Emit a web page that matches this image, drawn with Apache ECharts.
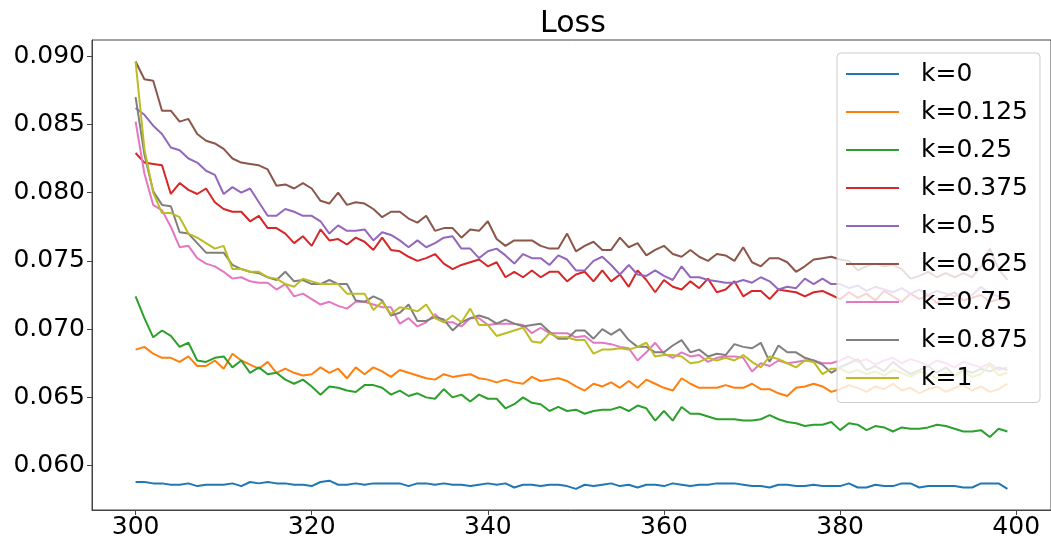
<!DOCTYPE html>
<html>
<head>
<meta charset="utf-8">
<script src="https://cdn.jsdelivr.net/npm/echarts@6/dist/echarts.min.js"></script>
<style>
html,body{margin:0;padding:0;background:#fff;}
#chart{width:1051px;height:540px;}
</style>
</head>
<body>
<div id="chart"></div>
<script>
// ---- data ----
const epochs = Array.from({length: 100}, (_, i) => 300 + i);
const seriesNames = ['k=0','k=0.125','k=0.25','k=0.375','k=0.5','k=0.625','k=0.75','k=0.875','k=1'];
const xTicks = [300, 320, 340, 360, 380, 400];
const yTicks = [0.060, 0.065, 0.070, 0.075, 0.080, 0.085, 0.090];

const k0 = [0.0588,0.0588,0.0587,0.0587,0.0586,0.0586,0.0587,0.0585,0.0586,0.0586,
0.0586,0.0587,0.0585,0.0588,0.0587,0.0588,0.0587,0.0587,0.0586,0.0586,
0.0585,0.0588,0.0589,0.0586,0.0586,0.0587,0.0586,0.0587,0.0587,0.0587,
0.0587,0.0585,0.0587,0.0587,0.0586,0.0587,0.0586,0.0586,0.0585,0.0586,
0.0587,0.0586,0.0587,0.0584,0.0586,0.0586,0.0585,0.0586,0.0586,0.0585,
0.0583,0.0586,0.0585,0.0586,0.0587,0.0585,0.0586,0.0584,0.0586,0.0586,
0.0585,0.0587,0.0586,0.0585,0.0586,0.0586,0.0587,0.0587,0.0587,0.0586,
0.0585,0.0585,0.0584,0.0586,0.0586,0.0585,0.0585,0.0586,0.0585,0.0585,
0.0585,0.0587,0.0584,0.0584,0.0586,0.0585,0.0585,0.0587,0.0587,0.0584,
0.0585,0.0585,0.0585,0.0585,0.0584,0.0584,0.0587,0.0587,0.0587,0.0583];

const k0125 = [0.0685,0.0687,0.0682,0.0679,0.0679,0.0676,0.0680,0.0673,0.0673,0.0677,
0.0671,0.0682,0.0677,0.0674,0.0671,0.0676,0.0668,0.0671,0.0668,0.0666,
0.0667,0.0672,0.0668,0.0671,0.0664,0.0672,0.0667,0.0672,0.0669,0.0665,
0.0670,0.0668,0.0666,0.0664,0.0663,0.0667,0.0665,0.0666,0.0667,0.0664,
0.0663,0.0661,0.0663,0.0661,0.0660,0.0665,0.0662,0.0663,0.0664,0.0662,
0.0658,0.0655,0.0660,0.0658,0.0661,0.0657,0.0662,0.0657,0.0663,0.0660,
0.0657,0.0655,0.0664,0.0660,0.0657,0.0657,0.0657,0.0659,0.0657,0.0657,
0.0660,0.0656,0.0656,0.0653,0.0651,0.0657,0.0658,0.0660,0.0658,0.0654,
0.0656,0.0659,0.0657,0.0654,0.0658,0.0656,0.0660,0.0655,0.0657,0.0653,
0.0656,0.0658,0.0654,0.0657,0.0659,0.0655,0.0658,0.0654,0.0656,0.0660];

const k025 = [0.0724,0.0708,0.0694,0.0699,0.0695,0.0687,0.0690,0.0677,0.0676,0.0679,
0.0680,0.0672,0.0677,0.0668,0.0672,0.0667,0.0668,0.0663,0.0660,0.0663,
0.0658,0.0652,0.0658,0.0657,0.0655,0.0654,0.0659,0.0659,0.0657,0.0652,
0.0655,0.0651,0.0653,0.0650,0.0649,0.0656,0.0650,0.0652,0.0647,0.0652,
0.0649,0.0649,0.0642,0.0645,0.0650,0.0646,0.0645,0.0640,0.0643,0.0640,
0.0641,0.0638,0.0640,0.0641,0.0641,0.0643,0.0640,0.0644,0.0642,0.0633,
0.0640,0.0633,0.0643,0.0638,0.0638,0.0636,0.0634,0.0634,0.0634,0.0633,
0.0633,0.0634,0.0637,0.0634,0.0632,0.0631,0.0629,0.0630,0.0630,0.0632,
0.0626,0.0631,0.0630,0.0626,0.0629,0.0628,0.0625,0.0628,0.0627,0.0627,
0.0628,0.0630,0.0629,0.0627,0.0625,0.0625,0.0626,0.0621,0.0627,0.0625];

const k0375 = [0.0829,0.0822,0.0821,0.0820,0.0799,0.0807,0.0802,0.0799,0.0803,0.0793,
0.0788,0.0786,0.0786,0.0779,0.0783,0.0774,0.0774,0.0770,0.0763,0.0768,
0.0761,0.0773,0.0765,0.0766,0.0762,0.0767,0.0764,0.0758,0.0767,0.0758,
0.0757,0.0753,0.0750,0.0752,0.0755,0.0748,0.0744,0.0747,0.0749,0.0751,
0.0746,0.0749,0.0738,0.0742,0.0738,0.0743,0.0738,0.0742,0.0742,0.0735,
0.0740,0.0742,0.0735,0.0743,0.0735,0.0740,0.0731,0.0743,0.0736,0.0727,
0.0736,0.0731,0.0729,0.0735,0.0730,0.0737,0.0727,0.0729,0.0735,0.0724,
0.0728,0.0728,0.0722,0.0729,0.0728,0.0727,0.0724,0.0727,0.0728,0.0725,
0.0722,0.0727,0.0723,0.0726,0.0721,0.0728,0.0724,0.0720,0.0726,0.0722,
0.0725,0.0719,0.0724,0.0727,0.0721,0.0723,0.0725,0.0720,0.0722,0.0721];

const k05 = [0.0862,0.0857,0.0849,0.0843,0.0833,0.0831,0.0825,0.0822,0.0816,0.0813,
0.0799,0.0804,0.0800,0.0803,0.0793,0.0783,0.0783,0.0788,0.0786,0.0783,
0.0783,0.0779,0.0770,0.0776,0.0772,0.0772,0.0773,0.0765,0.0771,0.0769,
0.0765,0.0760,0.0765,0.0760,0.0763,0.0767,0.0768,0.0759,0.0759,0.0752,
0.0757,0.0759,0.0754,0.0748,0.0755,0.0752,0.0752,0.0747,0.0754,0.0751,
0.0743,0.0743,0.0750,0.0753,0.0747,0.0740,0.0747,0.0740,0.0739,0.0743,
0.0739,0.0736,0.0746,0.0738,0.0738,0.0736,0.0735,0.0734,0.0734,0.0736,
0.0734,0.0738,0.0735,0.0729,0.0731,0.0730,0.0737,0.0733,0.0737,0.0733,
0.0733,0.0730,0.0732,0.0728,0.0731,0.0729,0.0727,0.0730,0.0726,0.0729,
0.0725,0.0728,0.0726,0.0724,0.0727,0.0725,0.0731,0.0726,0.0724,0.0726];

const k0625 = [0.0896,0.0883,0.0882,0.0860,0.0860,0.0852,0.0854,0.0843,0.0838,0.0836,
0.0832,0.0825,0.0822,0.0821,0.0820,0.0817,0.0805,0.0806,0.0803,0.0807,
0.0803,0.0794,0.0792,0.0800,0.0791,0.0793,0.0792,0.0788,0.0782,0.0786,
0.0786,0.0781,0.0778,0.0783,0.0772,0.0774,0.0774,0.0767,0.0773,0.0772,
0.0779,0.0766,0.0761,0.0765,0.0765,0.0765,0.0761,0.0759,0.0759,0.0770,
0.0757,0.0761,0.0764,0.0758,0.0758,0.0767,0.0760,0.0763,0.0754,0.0758,
0.0761,0.0755,0.0753,0.0758,0.0753,0.0750,0.0755,0.0754,0.0750,0.0760,
0.0749,0.0746,0.0752,0.0752,0.0749,0.0742,0.0746,0.0751,0.0752,0.0753,
0.0751,0.0750,0.0743,0.0746,0.0748,0.0746,0.0747,0.0744,0.0737,0.0739,
0.0742,0.0738,0.0741,0.0738,0.0741,0.0738,0.0746,0.0759,0.0744,0.0736];

const k075 = [0.0852,0.0814,0.0791,0.0787,0.0775,0.0760,0.0761,0.0752,0.0748,0.0746,
0.0742,0.0737,0.0738,0.0735,0.0734,0.0734,0.0729,0.0733,0.0724,0.0726,
0.0722,0.0718,0.0720,0.0717,0.0715,0.0720,0.0720,0.0718,0.0716,0.0716,
0.0704,0.0708,0.0702,0.0705,0.0711,0.0705,0.0705,0.0702,0.0708,0.0708,
0.0703,0.0704,0.0704,0.0704,0.0703,0.0697,0.0701,0.0697,0.0697,0.0697,
0.0694,0.0695,0.0690,0.0690,0.0689,0.0687,0.0686,0.0677,0.0683,0.0690,
0.0682,0.0679,0.0683,0.0680,0.0681,0.0676,0.0679,0.0680,0.0680,0.0679,
0.0669,0.0675,0.0673,0.0677,0.0675,0.0676,0.0677,0.0677,0.0675,0.0675,
0.0677,0.0680,0.0676,0.0678,0.0674,0.0677,0.0679,0.0675,0.0678,0.0676,
0.0673,0.0677,0.0675,0.0672,0.0676,0.0674,0.0672,0.0675,0.0670,0.0672];

const k0875 = [0.0870,0.0828,0.0801,0.0791,0.0790,0.0771,0.0770,0.0763,0.0756,0.0756,
0.0756,0.0747,0.0744,0.0742,0.0741,0.0738,0.0736,0.0742,0.0735,0.0736,
0.0733,0.0733,0.0736,0.0733,0.0733,0.0721,0.0720,0.0724,0.0721,0.0710,
0.0712,0.0718,0.0706,0.0706,0.0709,0.0707,0.0699,0.0705,0.0708,0.0710,
0.0708,0.0704,0.0707,0.0704,0.0702,0.0703,0.0704,0.0698,0.0693,0.0693,
0.0699,0.0699,0.0693,0.0700,0.0696,0.0700,0.0692,0.0687,0.0687,0.0683,
0.0683,0.0688,0.0692,0.0683,0.0685,0.0680,0.0682,0.0681,0.0689,0.0687,
0.0686,0.0690,0.0676,0.0688,0.0683,0.0683,0.0679,0.0677,0.0674,0.0668,
0.0672,0.0675,0.0678,0.0670,0.0673,0.0669,0.0676,0.0671,0.0667,0.0670,
0.0673,0.0668,0.0672,0.0666,0.0670,0.0668,0.0671,0.0669,0.0672,0.0670];

const k1 = [0.0896,0.0832,0.0800,0.0785,0.0785,0.0782,0.0770,0.0767,0.0763,0.0759,
0.0761,0.0744,0.0744,0.0742,0.0742,0.0738,0.0737,0.0733,0.0731,0.0737,
0.0735,0.0733,0.0733,0.0733,0.0726,0.0726,0.0726,0.0714,0.0720,0.0711,
0.0716,0.0715,0.0713,0.0718,0.0708,0.0705,0.0710,0.0705,0.0715,0.0703,
0.0703,0.0695,0.0697,0.0699,0.0701,0.0691,0.0690,0.0697,0.0694,0.0694,
0.0692,0.0692,0.0682,0.0685,0.0685,0.0686,0.0685,0.0687,0.0690,0.0680,
0.0681,0.0681,0.0680,0.0675,0.0676,0.0679,0.0677,0.0679,0.0677,0.0681,
0.0676,0.0672,0.0680,0.0678,0.0675,0.0672,0.0677,0.0676,0.0667,0.0671,
0.0671,0.0668,0.0670,0.0667,0.0669,0.0666,0.0670,0.0668,0.0665,0.0669,
0.0667,0.0664,0.0668,0.0666,0.0669,0.0665,0.0667,0.0674,0.0666,0.0668];

const seriesValues = [k0, k0125, k025, k0375, k05, k0625, k075, k0875, k1];
const colors = ['#1f77b4','#ff7f0e','#2ca02c','#d62728','#9467bd','#8c564b','#e377c2','#7f7f7f','#bcbd22'];

// ---- chart ----
const FONT = '"DejaVu Sans", sans-serif';
const chart = echarts.init(document.getElementById('chart'));
const axisColor = '#444';

chart.setOption({
  animation: false,
  backgroundColor: '#fff',
  color: colors,
  title: {
    text: 'Loss',
    left: 540,
    top: 9,
    padding: 0,
    textStyle: {fontFamily: FONT, fontSize: 30, fontWeight: 'normal', color: '#000'}
  },
  grid: {
    left: 92, right: -4, top: 40, bottom: 30,
    show: true, borderColor: axisColor, borderWidth: 1, backgroundColor: 'transparent'
  },
  legend: {
    orient: 'vertical',
    left: 837, top: 53,
    padding: [8.5, 12, 12, 9],
    icon: 'rect',
    itemWidth: 53, itemHeight: 2, itemGap: 13,
    backgroundColor: 'rgba(255,255,255,0.8)',
    borderColor: '#cccccc', borderWidth: 1, borderRadius: 4,
    textStyle: {fontFamily: FONT, fontSize: 25, color: '#000', lineHeight: 25, padding: [0, 0, 0, 17]},
    data: seriesNames
  },
  xAxis: {
    type: 'value',
    min: 295.05, max: 403.95,
    splitLine: {show: false},
    axisLine: {show: true, onZero: false, lineStyle: {color: axisColor, width: 1}},
    axisTick: {show: true, length: 5, lineStyle: {color: axisColor}, customValues: xTicks},
    axisLabel: {show: true, margin: 5, fontFamily: FONT, fontSize: 25, color: '#000', customValues: xTicks,
      formatter: v => String(Math.round(v))}
  },
  yAxis: {
    type: 'value',
    min: 0.05675, max: 0.09118,
    splitLine: {show: false},
    axisLine: {show: true, onZero: false, lineStyle: {color: axisColor, width: 1}},
    axisTick: {show: true, length: 5, lineStyle: {color: axisColor}, customValues: yTicks},
    axisLabel: {show: true, margin: 7, fontFamily: FONT, fontSize: 25, color: '#000', customValues: yTicks,
      formatter: v => v.toFixed(3)}
  },
  series: seriesNames.map((name, s) => ({
    name: name,
    type: 'line',
    symbol: 'none',
    lineStyle: {width: 2, color: colors[s]},
    itemStyle: {color: colors[s]},
    emphasis: {disabled: true},
    data: epochs.map((x, i) => [x, seriesValues[s][i]])
  }))
});
</script>
</body>
</html>
